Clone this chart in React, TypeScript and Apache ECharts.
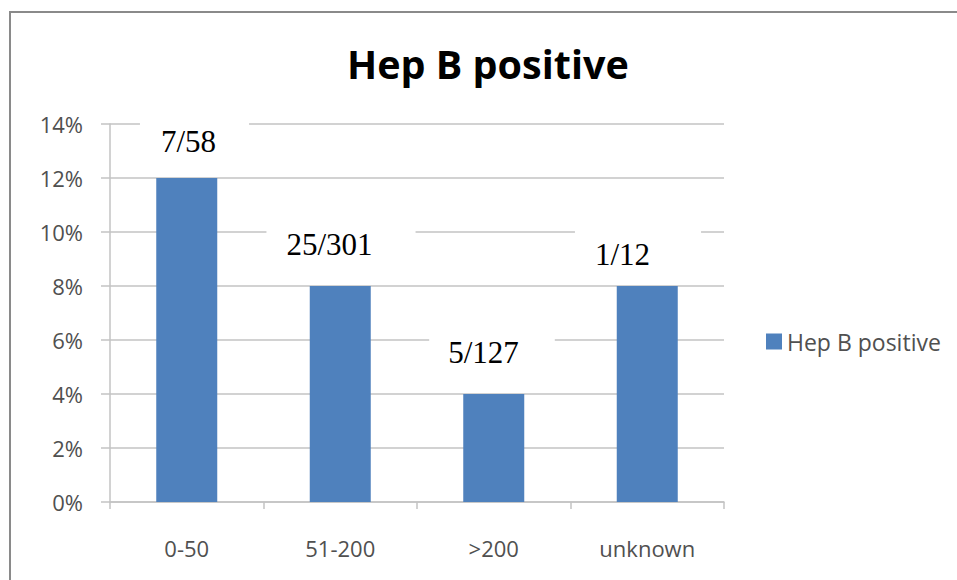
import React, { useEffect, useRef } from "react";
import * as echarts from "echarts";

// ---- data ----
const categories = ["0-50", "51-200", ">200", "unknown"];
const positivePercent = [12, 8, 4, 8];
const countLabels = ["7/58", "25/301", "5/127", "1/12"];
const seriesName = "Hep B positive";
const yMin = 0;
const yMax = 14;
const yInterval = 2;

// ---- label box layout (not data) ----
const labelOffsets = [
  [7.75, -13],
  [0.75, -18.5],
  [-1.75, -18.5],
  [-9.25, -8.5],
];
const labelPadLeft = [21, 20, 19, 20];
const labelPadRight = [33, 43, 36, 51];

export default function App() {
  const ref = useRef<HTMLDivElement>(null);

  useEffect(() => {
    const prevMargin = document.body.style.margin;
    document.body.style.margin = "0";
    const chart = echarts.init(ref.current!, null, { renderer: "svg" });

    const gridColor = "#c3c3c3";
    const axisTextColor = "#505050";

    chart.setOption({
      animation: false,
      backgroundColor: "#ffffff",
      title: {
        text: seriesName,
        left: 347,
        top: 44,
        padding: 0,
        textStyle: {
          fontFamily: "Open Sans",
          fontWeight: "bold",
          fontSize: 39.5,
          color: "#000000",
        },
      },
      legend: {
        orient: "vertical",
        left: 766,
        top: 330,
        itemWidth: 16,
        itemHeight: 16,
        padding: 0,
        icon: "rect",
        data: [seriesName],
        textStyle: {
          fontFamily: "Open Sans",
          fontSize: 23,
          color: axisTextColor,
        },
      },
      grid: {
        left: 110,
        right: 233,
        top: 124,
        bottom: 78,
        containLabel: false,
      },
      xAxis: {
        type: "category",
        data: categories,
        boundaryGap: true,
        axisLine: { show: true, lineStyle: { color: gridColor, width: 1.5 } },
        axisTick: {
          show: true,
          alignWithLabel: false,
          length: 7,
          lineStyle: { color: gridColor, width: 1.5 },
        },
        axisLabel: {
          margin: 35,
          fontFamily: "Open Sans",
          fontSize: 22,
          color: axisTextColor,
        },
        splitLine: { show: false },
      },
      yAxis: {
        type: "value",
        min: yMin,
        max: yMax,
        interval: yInterval,
        axisLine: { show: true, lineStyle: { color: gridColor, width: 1.5 } },
        axisTick: {
          show: true,
          inside: false,
          length: 9,
          lineStyle: { color: gridColor, width: 1.5 },
        },
        axisLabel: {
          margin: 27,
          fontFamily: "Open Sans",
          fontSize: 22,
          color: axisTextColor,
          formatter: "{value}%",
        },
        splitLine: { show: true, lineStyle: { color: gridColor, width: 1.5 } },
      },
      series: [
        {
          name: seriesName,
          type: "bar",
          barWidth: 61,
          itemStyle: { color: "#4f81bd" },
          data: positivePercent.map((v, i) => ({
            value: v,
            label: {
              show: true,
              position: "top",
              distance: 0,
              formatter: countLabels[i],
              offset: labelOffsets[i],
              padding: [8, labelPadRight[i], 8, labelPadLeft[i]],
              backgroundColor: "#ffffff",
              fontFamily: "Liberation Serif",
              fontSize: 31,
              lineHeight: 31,
              color: "#000000",
            },
          })),
        },
      ],
      graphic: [
        {
          type: "rect",
          silent: true,
          z: 100,
          shape: { x: 10, y: 12, width: 1200, height: 1200 },
          style: { fill: "none", stroke: "#8a8a8a", lineWidth: 2 },
        },
      ],
    });

    return () => {
      chart.dispose();
      document.body.style.margin = prevMargin;
    };
  }, []);

  return (
    <div
      ref={ref}
      style={{ position: "absolute", left: 0, top: 0, width: 957, height: 580 }}
    />
  );
}
